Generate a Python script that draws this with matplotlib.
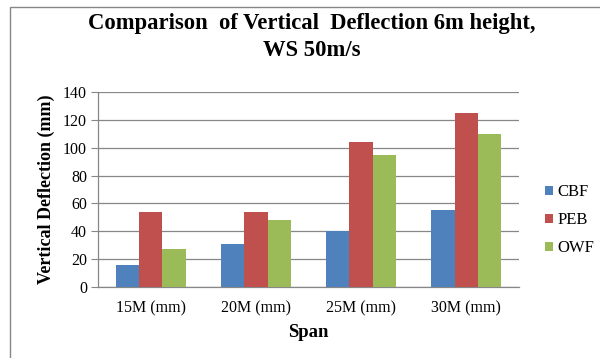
import matplotlib
matplotlib.use("Agg")
import matplotlib.pyplot as plt
import numpy as np
from matplotlib.patches import Rectangle

plt.rcParams['font.family'] = ['Liberation Serif', 'DejaVu Serif']

categories = ["15M (mm)", "20M (mm)", "25M (mm)", "30M (mm)"]
series_names = ["CBF", "PEB", "OWF"]
cbf = [16, 31, 40, 55]
peb = [54, 54, 104, 125]
owf = [27, 48, 95, 110]
colors = ["#4F81BD", "#C0504D", "#9BBB59"]
yticks = [0, 20, 40, 60, 80, 100, 120, 140]

fig = plt.figure(figsize=(6.0, 3.58), dpi=100)
ax = fig.add_axes([98/600, 1-287/358, (519-98)/600, (287-92)/358])

x = np.arange(len(categories))
w = 1/4.5
for i, (vals, name, c) in enumerate(zip([cbf, peb, owf], series_names, colors)):
    ax.bar(x + (i-1)*w, vals, width=w, color=c, label=name, zorder=3)

ax.set_xlim(-0.5, len(categories)-0.5)
ax.set_ylim(0, 140)
ax.set_yticks(yticks)
ax.set_xticks(x)
ax.set_xticklabels(categories, fontsize=11.5)
ax.tick_params(axis='y', labelsize=11.5, length=5, color='#878787', width=0.8, pad=3)
ax.tick_params(axis='x', length=0, pad=10)
ax.grid(axis='y', color='#878787', linewidth=0.9, zorder=0)
for s in ['top', 'right']:
    ax.spines[s].set_visible(False)
ax.spines['left'].set_color('#878787')
ax.spines['bottom'].set_color('#878787')
ax.spines['left'].set_linewidth(0.9)
ax.spines['bottom'].set_linewidth(0.9)

ax.set_ylabel("Vertical Deflection (mm)", fontsize=13, fontweight='bold', labelpad=6)
ax.set_xlabel("Span", fontsize=13.5, fontweight='bold', labelpad=5)

fig.text(312/600, 1-24/358, "Comparison  of Vertical  Deflection 6m height,", ha='center', va='center',
         fontsize=16.3, fontweight='bold')
fig.text(312/600, 1-51/358, "WS 50m/s", ha='center', va='center', fontsize=16.3, fontweight='bold')

leg = fig.legend(loc='upper left', bbox_to_anchor=(537/600, 1-176/358), frameon=False,
                 fontsize=12, handlelength=0.45, handleheight=0.45, handletextpad=0.3,
                 labelspacing=0.72, borderpad=0)

fig.patches.append(Rectangle((10/600, -0.1), 1.2, 1-7/358+0.1, transform=fig.transFigure,
                             fill=False, edgecolor='#878787', linewidth=1.0))

fig.savefig("out.png", dpi=100)
